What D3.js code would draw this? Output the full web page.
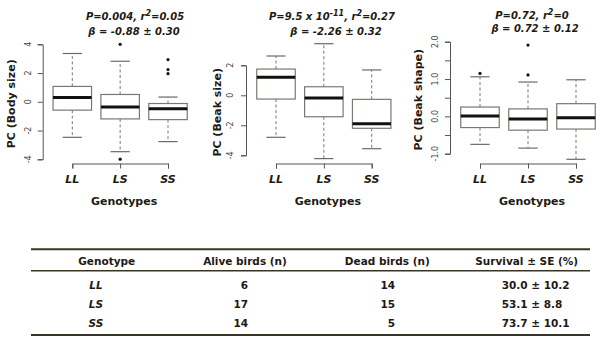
<!DOCTYPE html>
<html><head><meta charset="utf-8">
<script src="https://cdn.jsdelivr.net/npm/d3@7"></script>
<style>body{margin:0;background:#fff}svg{display:block}</style>
</head><body>
<svg id="c" width="600" height="346"></svg>
<script>
const genotypes = ["LL","LS","SS"];
// box stats: [lowerWhisker, q1, median, q3, upperWhisker]
const bodySize   = [[-2.47,-0.58,0.30,1.07,3.36],[-3.47,-1.19,-0.37,0.51,2.82],[-2.77,-1.24,-0.49,-0.12,0.33]];
const bodyOut    = [[],[4.0,-3.99],[2.94,2.24,1.96]];
const beakSize   = [[-2.80,-0.25,1.20,1.75,2.62],[-4.22,-1.43,-0.18,0.57,3.44],[-3.56,-2.20,-1.89,-0.27,1.69]];
const beakSizeOut= [[],[],[]];
const beakShape  = [[-0.75,-0.30,0.01,0.25,1.06],[-0.85,-0.37,-0.07,0.20,0.92],[-1.15,-0.34,-0.04,0.34,0.98]];
const beakShapeOut=[[1.15],[1.91,1.11],[]];
const yTicks1 = [-4,-2,0,2,4];
const yTicks2 = [-4,-2,0,2];
const yTicks3 = [-1,-0.5,0,0.5,1,1.5,2];
const title1 = ["P=0.004, r", "2", "=0.05"], beta1 = "β = -0.88 ± 0.30";
const title2 = ["P=9.5 x 10", "-11", ", r", "2", "=0.27"], beta2 = "β = -2.26 ± 0.32";
const title3 = ["P=0.72, r", "2", "=0"], beta3 = "β = 0.72 ± 0.12";

const tableHeader = ["Genotype","Alive birds (n)","Dead birds (n)","Survival ± SE (%)"];
const alive = [6,17,14];
const dead = [14,15,5];
const survival = ["30.0 ± 10.2","53.1 ± 8.8","73.7 ± 10.1"];

const svg = d3.select("#c");
const FONT = "DejaVu Sans, Verdana, sans-serif";
const TXT = "#1e1a14";

const panels = [
  {stats: bodySize, out: bodyOut, ticks: yTicks1, dom:[-4,4], rng:[159.3,44.3], xr:[72.3,168], axisX:42.7, ylab:"PC (Body size)", ylabX:10.5, tickLabX:28.5},
  {stats: beakSize, out: beakSizeOut, ticks: yTicks2, dom:[-4,2], rng:[155.3,65.3], xr:[276,371.7], axisX:246, ylab:"PC (Beak size)", ylabX:217, tickLabX:230},
  {stats: beakShape, out: beakShapeOut, ticks: yTicks3, dom:[-1,2], rng:[153.7,41.7], xr:[480,576], axisX:450, ylab:"PC (Beak shape)", ylabX:417.5, tickLabX:435}
];

const fmtTick = (v, decimals) => {
  if (decimals) { if (Math.abs(v % 1) > 1e-9) return ""; return v.toFixed(1); }
  return String(v);
};

panels.forEach((p, i) => {
  const g = svg.append("g");
  const y = d3.scaleLinear().domain(p.dom).range(p.rng);
  const x = d3.scalePoint().domain(genotypes).range(p.xr);
  const bw = 38.5;

  const ya = g.append("g").attr("transform", `translate(${p.axisX},0)`)
    .call(d3.axisLeft(y).tickValues(p.ticks).tickSizeOuter(0).tickSize(5).tickFormat(() => ""));
  ya.selectAll("path,line").attr("stroke", "#555").attr("stroke-width", 1);
  g.selectAll(".yl").data(p.ticks.filter(v => fmtTick(v, i === 2) !== "")).enter().append("text")
    .attr("transform", d => `translate(${p.tickLabX},${y(d)}) rotate(-90)`)
    .attr("text-anchor", "middle").attr("dy", "0.35em")
    .attr("font-family", FONT).attr("font-size", 8).attr("fill", "#444")
    .text(d => fmtTick(d, i === 2));

  const xa = g.append("g").attr("transform", `translate(0,163.5)`)
    .call(d3.axisBottom(x).tickSizeOuter(0).tickSize(5).tickFormat(() => ""));
  xa.selectAll("path,line").attr("stroke", "#555").attr("stroke-width", 1);
  g.selectAll(".xl").data(genotypes).enter().append("text")
    .attr("x", d => x(d)).attr("y", 182.5).attr("text-anchor", "middle")
    .attr("font-family", FONT).attr("font-size", 11).attr("font-weight", "bold").attr("font-style", "italic")
    .attr("fill", TXT).text(d => d);
  g.append("text").attr("x", (p.xr[0] + p.xr[1]) / 2 + 4).attr("y", 204.5).attr("text-anchor", "middle")
    .attr("font-family", FONT).attr("font-size", 11).attr("font-weight", "bold").attr("fill", TXT).text("Genotypes");

  g.append("text").attr("transform", `translate(${p.ylabX + 4},${(p.rng[0] + p.rng[1]) / 2 + 2}) rotate(-90)`)
    .attr("text-anchor", "middle")
    .attr("font-family", FONT).attr("font-size", 11).attr("font-weight", "bold").attr("fill", TXT).text(p.ylab);

  p.stats.forEach((s, k) => {
    const cx = x(genotypes[k]);
    const bg = g.append("g");
    bg.append("line").attr("x1", cx).attr("x2", cx).attr("y1", y(s[3])).attr("y2", y(s[4]))
      .attr("stroke", "#7a766e").attr("stroke-dasharray", "3,2.5");
    bg.append("line").attr("x1", cx).attr("x2", cx).attr("y1", y(s[1])).attr("y2", y(s[0]))
      .attr("stroke", "#7a766e").attr("stroke-dasharray", "3,2.5");
    [s[0], s[4]].forEach(v => bg.append("line").attr("x1", cx - bw / 4).attr("x2", cx + bw / 4)
      .attr("y1", y(v)).attr("y2", y(v)).attr("stroke", "#6e6a62").attr("stroke-width", 1.2));
    bg.append("rect").attr("x", cx - bw / 2).attr("width", bw).attr("y", y(s[3])).attr("height", y(s[1]) - y(s[3]))
      .attr("fill", "#fff").attr("stroke", "#7d786f").attr("stroke-width", 1.2);
    bg.append("line").attr("x1", cx - bw / 2).attr("x2", cx + bw / 2).attr("y1", y(s[2])).attr("y2", y(s[2]))
      .attr("stroke", "#111").attr("stroke-width", 3);
    p.out[k].forEach(v => bg.append("circle").attr("cx", cx).attr("cy", y(v)).attr("r", 1.6).attr("fill", "#111"));
  });
});

function title(parts, cx, yb, supIdx) {
  const t = svg.append("text").attr("x", cx).attr("y", yb).attr("text-anchor", "middle")
    .attr("font-family", FONT).attr("font-size", 10).attr("font-weight", "bold").attr("font-style", "italic").attr("fill", TXT);
  parts.forEach((s, j) => {
    const sup = supIdx.includes(j);
    t.append("tspan").attr("dy", sup ? -4 : (j > 0 && supIdx.includes(j - 1) ? 4 : 0))
      .attr("font-size", sup ? 8 : 10).text(s);
  });
}
title(title1, 135, 19.5, [1]);
title(title2, 332, 19.5, [1, 3]);
title(title3, 532, 18.5, [1]);
[[beta1, 134, 34.5], [beta2, 336, 34.5], [beta3, 535, 32]].forEach(([s, cx, yb]) =>
  svg.append("text").attr("x", cx).attr("y", yb).attr("text-anchor", "middle")
    .attr("font-family", FONT).attr("font-size", 10).attr("font-weight", "bold").attr("font-style", "italic").attr("fill", TXT).text(s));

const LC = "#3b3424";
svg.append("line").attr("x1", 31).attr("x2", 590).attr("y1", 249.3).attr("y2", 249.3).attr("stroke", LC).attr("stroke-width", 2);
svg.append("line").attr("x1", 31).attr("x2", 590).attr("y1", 270.7).attr("y2", 270.7).attr("stroke", LC).attr("stroke-width", 1.5);
svg.append("line").attr("x1", 31).attr("x2", 590).attr("y1", 335).attr("y2", 335).attr("stroke", LC).attr("stroke-width", 2);
const hx = [106.7, 245, 387.3, 526.7];
tableHeader.forEach((h, j) => svg.append("text").attr("x", hx[j]).attr("y", 265).attr("text-anchor", "middle")
  .attr("font-family", FONT).attr("font-size", 10.5).attr("font-weight", "bold").attr("fill", TXT).text(h));
const rowY = [288.5, 308, 326.5];
genotypes.forEach((gname, r) => {
  const ty = rowY[r];
  const base = {"font-family": FONT, "font-size": 10.5, "font-weight": "bold", fill: TXT};
  const add = (x, anchor, txt, italic) => {
    const t = svg.append("text").attr("x", x).attr("y", ty).attr("text-anchor", anchor).text(txt);
    Object.entries(base).forEach(([k, v]) => t.attr(k, v));
    if (italic) t.attr("font-style", "italic");
  };
  add(96, "middle", gname, true);
  add(248, "end", alive[r]);
  add(395, "end", dead[r]);
  add(501.7, "start", survival[r]);
});
</script>
</body></html>
